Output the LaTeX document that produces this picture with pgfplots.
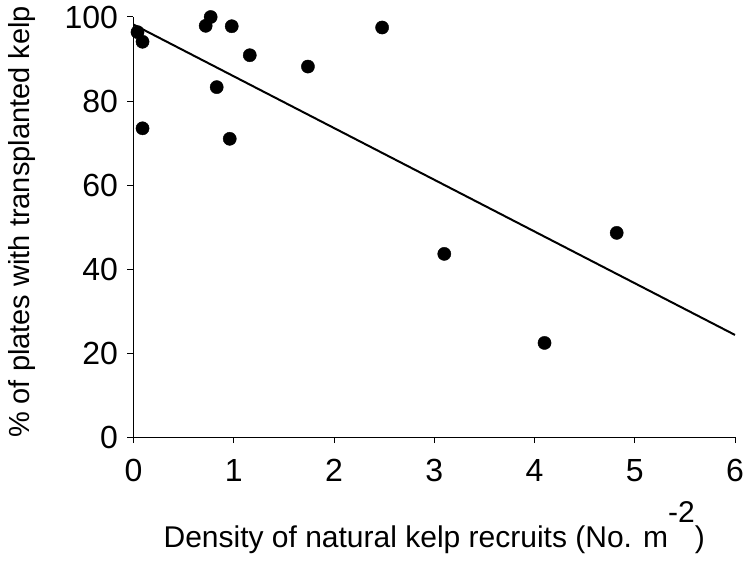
\documentclass[border=0pt]{standalone}
\usepackage{pgfplots}
\pgfplotsset{compat=1.18}
\usepackage{fontspec}
\setmainfont{Liberation Sans}
\begin{document}
\begin{tikzpicture}
\begin{axis}[
    scale only axis,
    width=601.5pt, height=420pt,
    xmin=0, xmax=6, ymin=0, ymax=100,
    axis x line*=bottom, axis y line*=left,
    axis line style={black, line width=1pt, -},
    tick align=outside, major tick length=6pt,
    tick style={black, line width=1pt},
    xtick={0,1,...,6}, ytick={0,20,...,100},
    /pgf/number format/assume math mode=true,
    ticklabel style={font=\fontsize{32}{36}\selectfont},
    xticklabel style={yshift=-13pt},
    yticklabel style={xshift=-6pt},
    xlabel={Density of natural kelp recruits (No. m\raisebox{0.82em}{-2})},
    ylabel={\% of plates with transplanted kelp},
    xlabel style={font=\fontsize{30}{34}\selectfont,
        at={(axis description cs:0.5,-0.2619)}, anchor=base},
    ylabel style={font=\fontsize{29}{34}\selectfont,
        at={(axis description cs:-0.1854,0.512)}, anchor=center},
    clip=false,
]
% fitted line
\addplot[black, line width=2pt] coordinates {(0,98.2) (6,24.3)};
% observations
\addplot[only marks, mark=*, mark size=6.6pt, black] coordinates {
    (0.04,96.4) (0.09,94.1) (0.09,73.5) (0.72,97.9) (0.77,100)
    (0.98,97.8) (1.16,90.9) (0.83,83.3) (0.96,71.0) (1.74,88.2)
    (2.48,97.5) (3.10,43.6) (4.10,22.4) (4.82,48.6)
};
\coordinate (o) at (rel axis cs:0,0);
\coordinate (t) at (rel axis cs:1,1);
\end{axis}
\pgfresetboundingbox
\path ([shift={(-133.5pt,-123pt)}]o) rectangle ([shift={(8pt,17pt)}]t);
\end{tikzpicture}
\end{document}
